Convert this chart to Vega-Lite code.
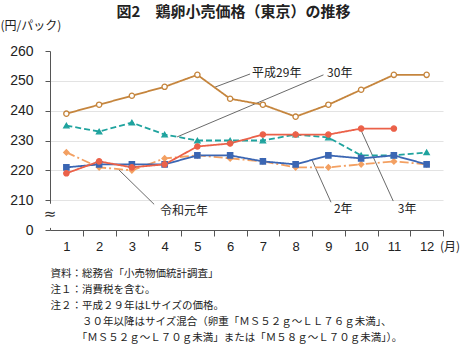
{
  "$schema": "https://vega.github.io/schema/vega-lite/v6.json",
  "width": 393,
  "height": 179,
  "autosize": {"type": "none"},
  "padding": {"top": 51, "left": 50, "right": 24, "bottom": 116},
  "background": "white",
  "config": {"view": {"stroke": null}, "font": "Noto Sans CJK JP"},
  "title": {
    "text": "図2　鶏卵小売価格（東京）の推移",
    "font": "Noto Sans CJK JP",
    "fontSize": 15,
    "fontWeight": "bold",
    "color": "#222",
    "anchor": "middle",
    "frame": "group",
    "dx": -13,
    "offset": -1
  },
  "datasets": {
    "prices": [
      {"series": "平成29年", "month": 1, "price": 239},
      {"series": "平成29年", "month": 2, "price": 242},
      {"series": "平成29年", "month": 3, "price": 245},
      {"series": "平成29年", "month": 4, "price": 248},
      {"series": "平成29年", "month": 5, "price": 252},
      {"series": "平成29年", "month": 6, "price": 244},
      {"series": "平成29年", "month": 7, "price": 242},
      {"series": "平成29年", "month": 8, "price": 238},
      {"series": "平成29年", "month": 9, "price": 242},
      {"series": "平成29年", "month": 10, "price": 247},
      {"series": "平成29年", "month": 11, "price": 252},
      {"series": "平成29年", "month": 12, "price": 252},
      {"series": "30年", "month": 1, "price": 235},
      {"series": "30年", "month": 2, "price": 233},
      {"series": "30年", "month": 3, "price": 236},
      {"series": "30年", "month": 4, "price": 232},
      {"series": "30年", "month": 5, "price": 230},
      {"series": "30年", "month": 6, "price": 230},
      {"series": "30年", "month": 7, "price": 230},
      {"series": "30年", "month": 8, "price": 232},
      {"series": "30年", "month": 9, "price": 231},
      {"series": "30年", "month": 10, "price": 225},
      {"series": "30年", "month": 11, "price": 225},
      {"series": "30年", "month": 12, "price": 226},
      {"series": "令和元年", "month": 1, "price": 226},
      {"series": "令和元年", "month": 2, "price": 221},
      {"series": "令和元年", "month": 3, "price": 220},
      {"series": "令和元年", "month": 4, "price": 224},
      {"series": "令和元年", "month": 5, "price": 225},
      {"series": "令和元年", "month": 6, "price": 224},
      {"series": "令和元年", "month": 7, "price": 223},
      {"series": "令和元年", "month": 8, "price": 221},
      {"series": "令和元年", "month": 9, "price": 221},
      {"series": "令和元年", "month": 10, "price": 222},
      {"series": "令和元年", "month": 11, "price": 223},
      {"series": "令和元年", "month": 12, "price": 222},
      {"series": "2年", "month": 1, "price": 221},
      {"series": "2年", "month": 2, "price": 222},
      {"series": "2年", "month": 3, "price": 222},
      {"series": "2年", "month": 4, "price": 222},
      {"series": "2年", "month": 5, "price": 225},
      {"series": "2年", "month": 6, "price": 225},
      {"series": "2年", "month": 7, "price": 223},
      {"series": "2年", "month": 8, "price": 222},
      {"series": "2年", "month": 9, "price": 225},
      {"series": "2年", "month": 10, "price": 224},
      {"series": "2年", "month": 11, "price": 225},
      {"series": "2年", "month": 12, "price": 222},
      {"series": "3年", "month": 1, "price": 219},
      {"series": "3年", "month": 2, "price": 223},
      {"series": "3年", "month": 3, "price": 221},
      {"series": "3年", "month": 4, "price": 222},
      {"series": "3年", "month": 5, "price": 228},
      {"series": "3年", "month": 6, "price": 229},
      {"series": "3年", "month": 7, "price": 232},
      {"series": "3年", "month": 8, "price": 232},
      {"series": "3年", "month": 9, "price": 232},
      {"series": "3年", "month": 10, "price": 234},
      {"series": "3年", "month": 11, "price": 234}
    ],
    "notes": [
      {"label": "平成29年", "month": 6.67, "price": 252.6},
      {"label": "30年", "month": 8.96, "price": 252.6},
      {"label": "令和元年", "month": 3.86, "price": 206.5},
      {"label": "2年", "month": 9.17, "price": 207},
      {"label": "3年", "month": 11.12, "price": 207}
    ],
    "leaders": [
      {"label": "平成29年", "month": 5.54, "price": 247.9, "month2": 6.61, "price2": 252.3},
      {"label": "30年", "month": 4.38, "price": 231.2, "month2": 8.85, "price2": 252.0},
      {"label": "令和元年", "month": 2.59, "price": 220.3, "month2": 3.68, "price2": 208.6},
      {"label": "2年", "month": 8.49, "price": 223.7, "month2": 9.08, "price2": 209.3},
      {"label": "3年", "month": 9.97, "price": 234.1, "month2": 10.98, "price2": 209.7}
    ],
    "axisbreak": [
      {"month": 0.5, "price": 200.7, "price2": 208.8}
    ],
    "symbols": [
      {"label": "≈", "month": 0.5, "price": 205.3},
      {"label": "(月)", "month": 12.5, "price": 200}
    ]
  },
  "encoding": {
    "x": {
      "field": "month",
      "type": "quantitative",
      "scale": {"domain": [0.5, 12.5], "nice": false, "zero": false},
      "axis": {
        "values": [0, 1, 2, 3, 4, 5, 6, 7, 8, 9, 10, 11, 12],
        "tickOffset": 16.375,
        "labelOffset": -16.375,
        "labelExpr": "datum.value == 0 ? '' : datum.label",
        "grid": false,
        "domainColor": "#555",
        "tickColor": "#555",
        "tickSize": 6,
        "labelFont": "Liberation Sans",
        "labelFontSize": 13,
        "labelColor": "#222",
        "labelPadding": 4,
        "title": [
          "資料：総務省「小売物価統計調査」",
          "注１：消費税を含む。",
          "注２：平成２９年はLサイズの価格。",
          "\u2060\u3000\u3000\u3000３０年以降はサイズ混合（卵重「ＭＳ５２ｇ～ＬＬ７６ｇ未満」、",
          "\u2060\u3000\u3000\u2002「ＭＳ５２ｇ～Ｌ７０ｇ未満」または「Ｍ５８ｇ～Ｌ７０ｇ未満」）。"
        ],
        "titleFont": "Noto Sans CJK JP",
        "titleFontSize": 10.5,
        "titleFontWeight": "normal",
        "titleColor": "#222",
        "titleAnchor": "start",
        "titleAlign": "left",
        "titleBaseline": "top",
        "titleX": 0,
        "titleY": 38,
        "titleLineHeight": 16
      }
    },
    "y": {
      "field": "price",
      "type": "quantitative",
      "scale": {"domain": [200, 260], "nice": false, "zero": false},
      "axis": {
        "values": [200, 210, 220, 230, 240, 250, 260],
        "labelExpr": "datum.value == 200 ? '0' : datum.label",
        "grid": true,
        "gridColor": "#e3e3e3",
        "gridOpacity": {"condition": {"test": "datum.value == 200 || datum.value == 260", "value": 0}, "value": 1},
        "domainColor": "#555",
        "tickColor": "#555",
        "tickSize": 5,
        "labelFont": "Liberation Sans",
        "labelFontSize": 14,
        "labelColor": "#222",
        "labelPadding": 12,
        "title": "(円/パック)",
        "titleFont": "Noto Sans CJK JP",
        "titleFontSize": 12,
        "titleFontWeight": "normal",
        "titleColor": "#222",
        "titleAngle": 0,
        "titleAlign": "left",
        "titleBaseline": "middle",
        "titleX": -50,
        "titleY": -26
      }
    }
  },
  "layer": [
    {
      "data": {"name": "axisbreak"},
      "mark": {"type": "rule", "color": "white", "strokeWidth": 4},
      "encoding": {
        "y2": {"field": "price2"}
      }
    },
    {
      "data": {"name": "symbols"},
      "mark": {"type": "text", "font": "DejaVu Sans", "fontSize": 15, "color": "#333", "align": "center", "baseline": "middle"},
      "transform": [{"filter": "datum.label == '≈'"}],
      "encoding": {
        "text": {"field": "label"}
      }
    },
    {
      "data": {"name": "symbols"},
      "mark": {"type": "text", "font": "Noto Sans CJK JP", "fontSize": 12, "color": "#222", "align": "left", "baseline": "middle", "dx": -3, "dy": 17},
      "transform": [{"filter": "datum.label == '(月)'"}],
      "encoding": {
        "text": {"field": "label"}
      }
    },
    {
      "data": {"name": "leaders"},
      "mark": {"type": "rule", "color": "#444", "strokeWidth": 0.8},
      "encoding": {
        "x2": {"field": "month2"},
        "y2": {"field": "price2"}
      }
    },
    {
      "data": {"name": "prices"},
      "mark": {"type": "line", "strokeWidth": 1.8},
      "encoding": {
        "color": {
          "field": "series", "type": "nominal",
          "scale": {"domain": ["平成29年", "30年", "令和元年", "2年", "3年"], "range": ["#C5853D", "#1FA39E", "#F3A062", "#3B66B3", "#EB6149"]},
          "legend": null
        },
        "strokeDash": {
          "field": "series", "type": "nominal",
          "scale": {"domain": ["平成29年", "30年", "令和元年", "2年", "3年"], "range": [[1, 0], [6, 3], [9, 3, 2, 3], [1, 0], [1, 0]]},
          "legend": null
        }
      }
    },
    {
      "data": {"name": "prices"},
      "mark": {"type": "point", "filled": true, "size": 28, "strokeWidth": 1.3, "opacity": 1},
      "encoding": {
        "shape": {
          "field": "series", "type": "nominal",
          "scale": {"domain": ["平成29年", "30年", "令和元年", "2年", "3年"], "range": ["circle", "triangle-up", "diamond", "square", "circle"]},
          "legend": null
        },
        "fill": {
          "field": "series", "type": "nominal",
          "scale": {"domain": ["平成29年", "30年", "令和元年", "2年", "3年"], "range": ["#FFFFFF", "#1FA39E", "#F3A062", "#3B66B3", "#EB6149"]},
          "legend": null
        },
        "stroke": {
          "field": "series", "type": "nominal",
          "scale": {"domain": ["平成29年", "30年", "令和元年", "2年", "3年"], "range": ["#C5853D", "#1FA39E", "#F3A062", "#3B66B3", "#EB6149"]},
          "legend": null
        }
      }
    },
    {
      "data": {"name": "notes"},
      "mark": {"type": "text", "font": "Noto Sans CJK JP", "fontSize": 12, "color": "#222", "align": "left", "baseline": "middle"},
      "encoding": {
        "text": {"field": "label"}
      }
    }
  ]
}
